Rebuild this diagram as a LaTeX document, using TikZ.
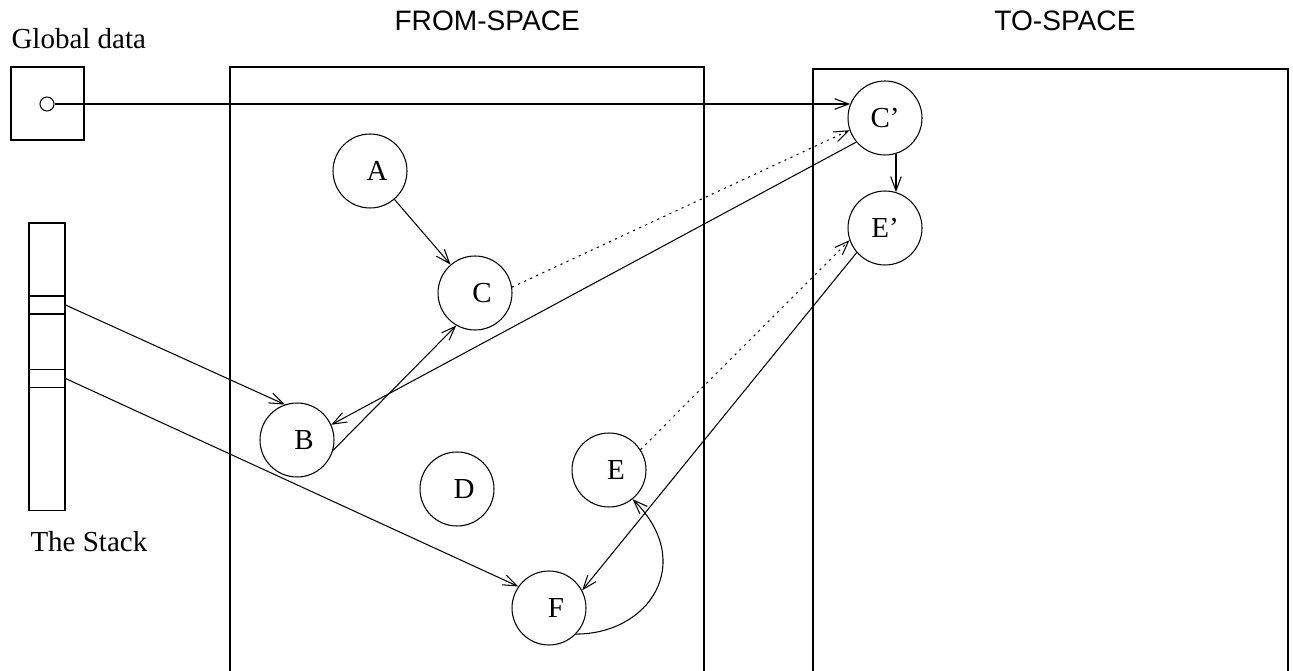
\documentclass[tikz,border=0pt]{standalone}
\usepackage{fontspec}
\setmainfont{Liberation Serif}
\newfontfamily\labelsans{Liberation Sans}
\usetikzlibrary{arrows.meta}
\begin{document}
\begin{tikzpicture}[x=0.02cm, y=-0.02cm, line width=0.6pt,
  >={Straight Barb[length=8pt,width=6pt]},
  obj/.style={circle, draw, minimum size=1.48cm, inner sep=0pt,
    font=\fontsize{16.5}{20}\selectfont},
  objs/.style={obj, execute at begin node={\hspace*{0.28cm}}},
  ptr/.style={->},
  fwd/.style={->, dash pattern=on 1.2pt off 2.6pt},
  slot/.style={rectangle, draw, minimum width=0.72cm, minimum height=0.36cm, inner sep=0pt},
  caption/.style={inner sep=0pt, font=\fontsize{16.5}{20}\selectfont},
  region/.style={inner sep=0pt, font=\labelsans\fontsize{16}{19}\selectfont}]
\useasboundingbox (0,0) rectangle (1293,671);

% the two semi-spaces, open at the bottom
\draw (230,671) -- (230,67) -- (704,67) -- (704,671);
\draw (813,671) -- (813,69) -- (1288,69) -- (1288,671);

% captions
\node[region, anchor=base west] (fromlbl) at (394,31) {FROM-SPACE};
\node[region, anchor=base east] (tolbl) at (1136,31) {TO-SPACE};
\node[caption, anchor=base west] (gdlbl) at (11,49) {Global data};
\node[caption, anchor=base west] (stlbl) at (30,551) {The Stack};

% global data with one root
\node[draw, minimum size=1.46cm, inner sep=0pt] (gbox) at (47.5,103.5) {};
\node[circle, draw, minimum size=0.28cm, inner sep=0pt] (groot) at (47,104) {};

% the stack with two root slots
\node[draw, minimum width=0.72cm, minimum height=5.76cm, inner sep=0pt] (stack) at (47,367) {};
\node[slot] (s1) at (47,305) {};
\node[slot] (s2) at (47,378.5) {};

% objects in from-space
\node[objs] (a) at (370,171) {A};
\node[objs] (c) at (475,293) {C};
\node[objs] (b) at (297,440) {B};
\node[objs] (d) at (457,489) {D};
\node[objs] (e) at (609,470) {E};
\node[objs] (f) at (549,608) {F};

% copies in to-space
\node[obj] (cp) at (885,118) {C'};
\node[obj] (ep) at (885,228) {E'};

% pointers
\draw[ptr] (groot.east) -- (groot.east -| cp.158);
\draw[ptr] (a) -- (c);
\draw[ptr] (b.-16) -- (c.240);
\draw[ptr] (cp.220) -- (b.24);
\draw[ptr] (cp.-73) -- (ep.73);
\draw[ptr] (ep.221) -- (f.28);
\draw[ptr] (s1.east) -- (b.109);
\draw[ptr] (s2.east) -- (f.145);
\draw[ptr] (f.-44) .. controls +(73,0) and +(64,64) .. (e.-51);

% forwarding addresses
\draw[fwd] (c.9) -- (cp.199);
\draw[fwd] (e.33) -- (ep.199);
\end{tikzpicture}
\end{document}
